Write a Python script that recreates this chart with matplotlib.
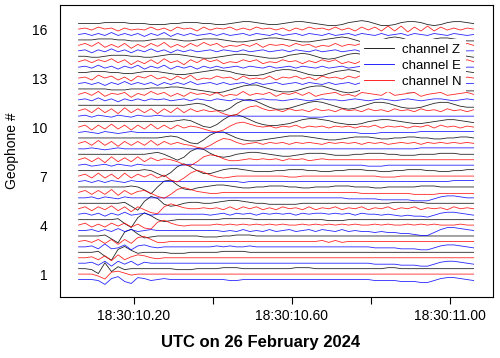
import numpy as np
import matplotlib
matplotlib.use("Agg")
import matplotlib.pyplot as plt

plt.rcParams["font.family"] = ["Liberation Sans", "DejaVu Sans"]

# time axis: seconds after 18:30:00 UTC
t_start, t_end = 10.06, 11.06
geophones = list(range(1, 17))
ytick_vals = [1, 4, 7, 10, 13, 16]
xtick_vals = [10.2, 10.4, 10.6, 10.8, 11.0]
xtick_labels = ["18:30:10.20", "", "18:30:10.60", "", "18:30:11.00"]

# trace amplitudes (pixel-ish units), one list per geophone, 61 samples each
z_traces = [
    [0,0,-1,-5,6,-3,2,-1,0,0, 0,0,0,0,0,-1,-1,-1,0,0, 0,0,1,1,1,0,0,0,0,0, 0,0,0,1,1,1,0,0,0,0, 0,0,0,0,0,0,0,1,1,0, 0,0,0,0,0,0,0,0,0,0,0],
    [0,0,0,1,-4,-8,3,6,2,-1, 0,0,0,0,-1,-1,-1,0,0,0, 0,0,1,1,1,1,0,0,0,0, 0,0,0,0,0,0,0,0,0,0, 0,0,0,0,0,0,0,0,0,0, 0,0,0,0,0,0,0,0,0,0,0],
    [0,0,0,0,1,-3,-7,4,7,2, -2,-1,0,0,0,0,0,0,0,-1, -1,-1,0,0,1,1,1,0,0,0, 0,0,0,0,0,0,0,0,0,0, 0,0,0,0,0,0,0,0,0,0, 0,0,0,0,0,0,0,0,0,0,0],
    [0,0,0,0,0,0,1,-4,-8,2, 7,4,0,-2,-1,0,0,0,0,0, 0,0,1,1,1,1,1,0,0,0, 0,0,0,0,0,0,0,0,-1,-1, -1,0,0,0,0,0,0,0,0,0, 0,0,0,0,0,0,0,0,0,0,0],
    [0,0,0,0,0,0,0,1,-3,-7, 2,7,5,-1,-3,-2,0,1,1,0, 0,1,2,3,3,2,1,0,0,-1, -1,-1,-1,-1,0,0,0,0,0,0, 0,0,0,0,0,0,0,0,1,1, 1,1,1,0,0,0,0,0,0,0,0],
    [0,0,0,0,0,0,0,0,1,0, -3,-7,0,6,7,2,-2,-3,-1,0, 1,2,2,1,0,-1,-1,0,0,1, 1,1,0,0,-1,-1,0,0,0,1, 1,1,0,0,0,-1,-1,0,0,0, 0,0,1,1,1,0,0,0,0,0,0],
    [0,0,0,0,0,0,0,0,0,0, 1,0,-3,-6,-2,4,7,4,0,-3, -3,-1,1,2,2,1,0,-1,-1,-1, 0,0,1,1,1,0,0,-1,-1,0, 0,1,1,1,0,0,-1,-1,0,0, 1,1,1,0,0,-1,-1,0,0,1,1],
    [0,0,0,0,0,0,0,0,0,0, 0,1,2,0,-3,-6,-3,3,6,5, 1,-2,-3,-2,0,1,2,2,1,0, -1,-2,-2,-1,0,1,1,1,0,-1, -1,-1,0,0,1,1,1,0,0,-1, -1,-1,0,0,0,1,1,1,0,0,0],
    [0,0,0,0,0,0,0,0,0,0, 0,0,0,1,2,1,-2,-5,-6,-2, 3,6,6,3,0,-2,-3,-3,-2,-1, 0,1,2,2,2,1,0,-1,-2,-2, -1,0,1,1,1,0,-1,-1,0,0, 1,1,0,0,-1,-1,0,0,1,1,0],
    [0,0,0,0,0,0,0,0,0,0, 0,0,0,0,0,1,2,1,-2,-5, -6,-3,2,6,7,5,2,-1,-3,-4, -4,-3,-2,0,2,3,3,2,1,-1, -2,-3,-3,-2,0,1,2,2,1,0, -1,-2,-2,-1,0,1,2,2,1,0,-1],
    [0,0,0,0,0,0,0,0,0,0, 0,0,0,0,0,0,0,1,2,1, -2,-5,-6,-3,2,5,6,4,1,-2, -4,-4,-3,-1,1,3,4,3,1,-1, -3,-4,-3,-1,1,3,3,2,0,-2, -3,-3,-2,0,2,3,3,1,-1,-2,-2],
    [0,0,0,0,0,-1,-1,-1,0,0, 0,1,1,1,2,2,1,0,-1,-2, -3,-4,-3,-1,1,3,4,4,2,0, -2,-3,-3,-2,0,2,3,3,1,-1, -3,-4,-3,-1,1,2,3,2,0,-2, -3,-3,-1,1,2,3,2,0,-1,-2,-2],
    [0,0,1,1,1,0,0,-1,-1,0, 1,1,1,0,-1,-2,-2,-1,0,1, 2,3,2,1,-1,-2,-3,-3,-2,0, 2,3,3,2,0,-2,-3,-3,-1,1, 2,3,2,0,-2,-3,-2,0,2,3, 3,1,-1,-2,-2,-1,1,2,2,1,0],
    [0,0,-1,-1,0,1,1,1,0,0, -1,-1,0,1,2,2,1,0,-1,-2, -2,-1,0,1,2,2,1,0,-1,-2, -2,-1,1,2,3,2,0,-2,-3,-2, 0,2,3,2,0,-2,-3,-2,0,2, 3,2,0,-2,-2,-1,1,2,2,0,-1],
    [0,0,0,1,1,1,0,0,-1,-1, -1,0,1,1,1,0,-1,-1,0,1, 1,1,0,-1,-2,-2,-1,0,1,2, 2,1,0,-1,-2,-2,-1,0,1,2, 3,2,0,-2,-3,-2,0,2,3,2, 0,-2,-2,-1,1,2,2,1,0,-1,-1],
    [0,0,0,0,1,1,1,1,0,0, 0,-1,-1,-1,0,0,1,1,1,0, 0,-1,-1,0,1,2,2,1,0,-1, -1,0,1,2,2,1,0,-1,-2,-2, -1,1,2,3,2,0,-2,-2,-1,1, 2,2,1,-1,-2,-1,1,2,2,1,0],
]

n_traces = [
    [0,0,0,-2,-5,2,3,1,-1,0, 0,0,0,0,0,0,0,0,0,0, 0,0,0,0,0,0,0,0,0,0, 0,0,0,0,0,0,0,0,0,0, 0,0,0,0,0,0,0,0,0,0, 0,0,0,0,0,0,0,0,0,0,0],
    [0,0,1,-2,2,-3,3,-2,1,3, 2,0,-1,0,0,0,0,0,0,0, 0,0,0,0,0,0,0,0,0,0, 0,0,0,0,0,0,0,0,0,0, 0,0,0,0,0,0,0,0,0,0, 0,0,0,0,0,0,0,0,0,0,0],
    [0,1,-1,2,-2,2,-3,2,-2,4, 5,2,-1,-1,0,0,0,0,0,0, 0,0,0,0,0,0,0,0,0,0, 0,0,0,0,0,0,0,1,-1,1, -1,0,0,0,0,0,0,0,0,0, 0,0,0,0,0,0,0,0,0,0,0],
    [0,2,-2,1,-2,2,-1,2,-2,1, -3,-4,3,5,2,0,-1,0,0,0, 0,1,0,1,0,1,0,1,0,1, 0,1,0,0,1,0,1,0,1,0, 1,0,1,0,0,1,0,1,0,0, 1,0,1,0,1,0,0,0,1,0,0],
    [0,2,-2,2,-1,3,-2,2,-3,2, -1,-4,-5,2,5,3,1,0,0,1, 0,1,-1,2,-1,2,0,2,-1,1, -1,2,0,1,-1,2,-1,1,0,2, -1,1,0,2,-1,1,0,2,-1,1, 0,2,-1,1,0,1,-1,2,0,1,0],
    [0,2,-2,2,-2,3,-3,2,-2,1, 2,-1,-4,-6,-2,3,5,3,1,0, -1,-1,0,0,0,0,0,0,0,0, 0,0,0,0,0,0,0,0,0,0, 0,0,0,-1,-1,-1,-1,-1,-1,-1, -1,-2,-2,-2,-2,-1,-1,-1,-1,-1,-1],
    [0,2,-2,3,-2,2,-3,3,-2,2, -1,2,-2,1,-4,-6,-2,3,6,4, 1,-1,-2,-1,0,0,0,0,0,0, 0,0,-1,-1,0,0,0,0,0,0, 0,0,0,0,0,0,-1,-1,-1,0, 0,0,0,0,0,0,0,0,0,0,0],
    [0,2,-2,2,-3,3,-2,2,-2,3, -2,2,-1,1,0,-2,-5,-6,-2,3, 5,4,1,-1,-1,0,1,0,1,0, 1,-1,1,0,1,-1,0,1,0,0, 0,0,0,0,0,0,0,0,0,0, 0,0,0,0,0,0,0,0,0,0,0],
    [0,2,-2,3,-2,2,-3,2,-2,2, -2,3,-2,2,-1,1,-1,-2,-4,-5, -2,2,5,4,1,-1,0,1,-1,1, 0,1,-1,1,0,1,0,-1,1,0, 1,0,1,-1,1,0,1,-1,0,1, 0,1,-1,1,0,1,0,1,0,1,0],
    [0,2,-3,2,-2,3,-2,2,-3,2, -2,3,-2,2,-2,2,-1,1,0,-2, -4,-5,-3,1,4,5,3,1,0,1, -1,1,0,2,-1,1,0,1,-1,1, 0,1,-1,1,0,2,-1,1,0,1, -1,1,0,2,-1,2,0,1,-1,1,0],
    [0,2,-2,3,-2,2,-3,3,-2,2, -2,2,-3,2,-2,3,-2,2,-1,1, -1,0,-3,-5,-4,1,4,5,2,0, 1,-1,2,0,1,-1,2,0,1,-1, 2,0,1,-1,2,0,1,-1,2,0, 1,-1,2,0,1,-1,2,0,1,-1,1],
    [0,2,-1,3,-2,1,0,2,-3,1, -1,3,0,2,-2,1,-2,2,0,1, -1,2,-2,0,-1,3,-1,1,0,2, -2,1,0,2,-1,2,-2,0,1,2, -1,0,-2,2,1,0,-1,3,-1,0, 1,2,-2,0,1,2,-1,0,1,2,0],
    [0,1,-2,3,0,2,-2,1,-3,2, 0,3,-1,1,-2,2,-1,3,-2,0, -1,2,0,1,-2,2,-1,0,-1,2, -2,1,0,2,-1,1,-2,2,0,1, -1,2,0,3,-2,0,-1,2,1,2, -1,1,-2,0,-1,2,0,2,-2,1,0],
    [0,2,-1,2,0,3,-1,2,-3,1, -2,2,-2,3,-1,1,-3,2,-1,3, 0,2,-2,0,-1,2,0,2,-2,0, -1,2,0,1,-2,1,-1,2,0,2, -2,0,-2,1,-1,2,0,2,-1,0, -1,2,0,1,-1,3,-1,1,-1,2,0],
    [0,2,-1,3,-2,1,-2,2,-3,1, -2,2,-1,3,-2,1,-2,2,-1,3, 0,2,-2,0,-1,1,-1,2,-2,1, 0,1,-1,2,0,1,-2,0,-1,2, -1,1,0,2,-2,1,-1,0,-1,2, -2,0,-1,2,-1,0,-2,1,-1,2,0],
    [0,1,-1,2,0,1,-2,1,-1,0, -1,2,-1,1,-2,2,0,1,-2,2, -1,1,0,2,-1,1,-1,2,0,1, -1,1,-2,1,-1,2,0,1,-1,2, -1,1,-2,2,-1,2,-2,3,-2,3, -3,2,-2,3,-2,2,-1,1,-1,1,0],
]

e_traces = [
    [0,0,0,-1,-5,1,3,-2,-4,2, 1,-1,0,1,0,0,0,0,0,0, 0,0,0,-1,-1,0,0,0,0,0, 0,0,0,0,0,0,0,0,0,0, 0,0,0,0,0,-1,-1,-1,-1,-2, -2,-2,-3,-3,-1,1,2,2,1,0,-1],
    [0,0,1,-2,2,-3,2,-1,2,-2, 1,0,0,0,0,0,0,0,0,0, 0,0,0,0,0,0,0,0,0,0, 0,0,0,0,0,0,0,0,0,0, 0,0,0,0,0,-1,-1,-1,-1,-2, -2,-2,-3,-3,-1,1,2,2,1,0,-1],
    [0,0,1,-2,3,-2,-1,2,-3,1, 2,0,-1,0,0,0,0,0,0,0, 0,1,0,1,0,0,1,0,0,0, 0,0,0,0,0,0,0,0,0,0, 0,0,0,0,0,-1,-1,-1,-1,-2, -2,-2,-3,-3,-1,1,2,2,1,0,-1],
    [0,0,1,-1,1,-1,2,-1,1,-1, 0,1,0,0,0,0,0,0,0,0, 0,0,-1,0,-1,1,-1,0,-1,1, -1,0,1,-1,0,1,-1,1,0,-1, 1,-1,0,-1,-1,-2,-1,-2,-2,-3, -3,-4,-5,-5,-2,1,3,3,2,1,0],
    [0,1,-1,1,-2,1,-1,2,-1,0, 1,-1,0,0,0,0,0,0,0,0, -1,0,1,-1,1,0,1,-1,1,0, 1,0,1,-1,1,0,1,1,0,1, 0,1,-1,1,0,0,-1,0,-1,-2, -1,-2,-2,-3,-1,1,2,2,1,0,-1],
    [0,0,1,-1,1,0,-1,1,0,0, 0,0,0,0,0,0,0,0,0,0, 0,0,0,0,0,0,0,0,0,0, 0,0,0,0,0,0,0,0,0,0, 0,-1,-1,-1,-1,-1,-2,-2,-2,-2, -2,-3,-3,-3,-1,1,2,2,1,0,0],
    [0,1,-1,1,-1,1,0,-1,1,0, 0,0,0,0,0,0,0,0,0,0, 0,0,0,0,0,-1,0,0,0,0, 0,0,0,0,0,0,0,0,0,0, 0,0,0,0,0,0,0,0,0,0, 0,0,0,0,0,0,0,1,1,1,1],
    [0,1,-1,0,1,-1,1,0,-1,1, 0,0,0,0,0,0,0,1,0,0, 0,0,0,0,0,0,0,0,0,0, 0,0,0,0,0,0,0,0,0,0, 0,0,0,0,-1,-1,-1,0,0,0, 0,0,0,0,0,0,0,0,0,0,0],
    [0,0,1,0,-1,0,1,0,0,0, 0,0,0,0,0,0,0,0,0,0, 0,0,0,0,0,0,0,0,0,0, 0,0,0,0,0,0,0,0,0,0, 0,0,0,0,0,0,0,0,0,0, 0,0,1,1,1,1,1,1,1,1,1],
    [0,1,0,-1,1,0,-1,0,1,0, 0,0,0,0,0,0,0,0,0,0, 0,0,0,0,0,0,0,0,0,0, 0,0,0,0,0,0,0,0,0,0, 0,0,0,-1,-1,-1,0,0,0,0, 0,0,1,1,1,1,1,1,1,1,1],
    [0,1,-1,1,0,-1,1,0,-1,1, 0,0,1,0,0,0,0,0,0,0, 0,0,0,0,0,0,0,0,0,0, 0,0,0,0,0,-1,-1,-1,0,0, 0,0,0,0,0,0,0,0,0,0, 0,0,0,0,0,0,0,0,0,0,0],
    [0,1,-1,2,-1,1,-2,1,-1,1, -1,1,0,1,-1,0,1,-1,1,0, -1,1,0,-1,1,0,-1,0,1,0, 0,-1,0,1,0,-1,0,1,0,0, -1,0,1,0,-1,0,1,0,-1,0, 1,0,-1,0,1,1,0,-1,0,1,0],
    [0,1,-1,1,-2,1,-1,2,-1,1, -1,1,-2,1,-1,1,-1,2,-1,0, 1,-1,1,-1,0,1,-1,1,-1,0, 1,-1,0,1,-1,1,0,-1,1,-1, 0,1,-1,1,0,-1,1,0,-1,1, 0,-1,1,0,-1,1,0,-1,1,0,0],
    [0,1,-1,2,-1,1,-2,1,-1,2, -2,1,-1,2,-2,1,-1,1,-2,1, -1,1,-1,0,1,-1,1,0,-1,1, -1,0,1,-1,1,0,-1,1,-1,0, 1,-1,0,1,-1,1,0,-1,1,0, -1,1,0,-1,1,-1,0,1,-1,0,0],
    [0,1,-2,1,-1,2,-1,1,-2,1, -1,2,-1,1,-2,1,-1,1,-1,0, 1,-1,1,0,-1,1,-1,0,1,-1, 0,1,-1,1,0,-1,1,-1,0,1, -1,0,1,-1,1,0,-1,1,0,-1, 1,0,-1,1,0,-1,1,0,-1,0,0],
    [0,1,-1,1,-1,2,-1,1,-1,1, -2,1,-1,2,-2,1,-1,1,-1,0, 1,-1,1,-1,0,1,-1,1,0,-1, 1,-1,0,1,-1,1,0,-1,1,-1, 0,1,-1,1,0,-1,1,-1,0,1, -1,1,0,-1,1,0,-1,1,0,-1,0],
]

amp_scale = 0.06  # geophone units per amplitude unit
channels = [
    ("channel Z", z_traces, "black", 1 / 3),
    ("channel E", e_traces, "#0000ff", -1 / 3),
    ("channel N", n_traces, "#ff0000", 0.0),
]

fig = plt.figure(figsize=(5, 3.58), dpi=100)
ax = fig.add_axes([0.12, 0.17, 0.866, 0.816])

for i, g in enumerate(geophones):
    for label, traces, color, off in channels:
        y = np.array(traces[i], dtype=float) * amp_scale + g + off
        t = np.linspace(t_start, t_end, len(y))
        ax.plot(t, y, color=color, lw=0.6, alpha=0.85,
                label=label if i == 0 else None)

ax.set_xlim(10.013, 11.109)
ax.set_ylim(-0.41, 17.47)
ax.set_yticks(ytick_vals)
ax.set_xticks(xtick_vals)
ax.set_xticklabels(xtick_labels)
ax.tick_params(axis="y", length=0, pad=9, labelsize=10)
ax.tick_params(axis="x", length=5, direction="out", labelsize=10)
ax.set_ylabel("Geophone #", fontsize=10)
ax.yaxis.set_label_coords(-0.094, 0.5)
fig.text(0.521, 0.042, "UTC on 26 February 2024", fontsize=12,
         fontweight="bold", ha="center", va="center")

leg = ax.legend(loc="upper right", bbox_to_anchor=(0.952, 0.905), fontsize=9.5,
                frameon=True, framealpha=1, edgecolor="none", fancybox=False,
                handlelength=2.3, handletextpad=0.6, labelspacing=0.3,
                borderpad=0.3)
for line in leg.get_lines():
    line.set_alpha(1)

fig.savefig("out.png", dpi=100)
